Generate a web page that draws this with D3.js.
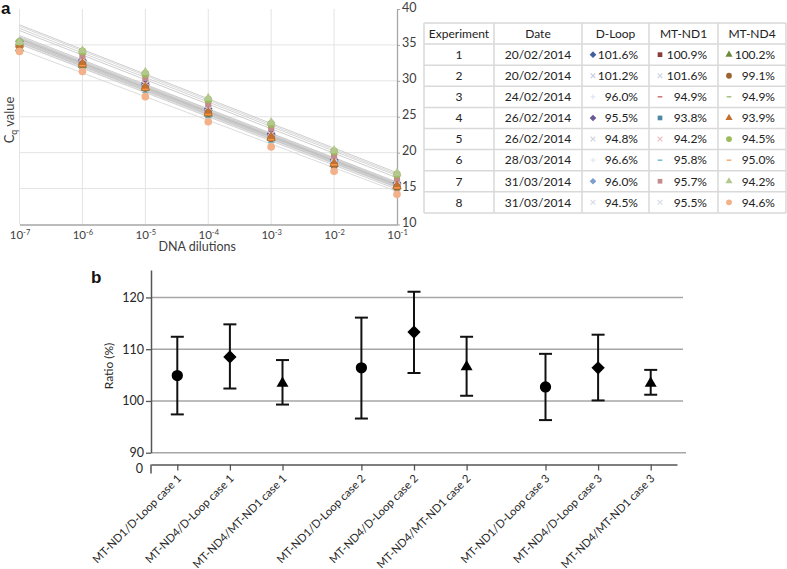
<!DOCTYPE html>
<html><head><meta charset="utf-8">
<script src="https://cdn.jsdelivr.net/npm/d3@7"></script>
<style>
body{margin:0;background:#fff;}
svg{display:block;font-family:Lato,"Open Sans",sans-serif;}
</style></head><body>
<svg id="c" width="787" height="569"></svg>
<script>
// ---------------- DATA ----------------
const dilutions = [1e-7, 1e-6, 1e-5, 1e-4, 1e-3, 1e-2, 1e-1];
const dilutionExp = ["-7", "-6", "-5", "-4", "-3", "-2", "-1"];
const cqTicks = [10, 15, 20, 25, 30, 35, 40];
const experiments = [1, 2, 3, 4, 5, 6, 7, 8];
const dates = ["20/02/2014","20/02/2014","24/02/2014","26/02/2014","26/02/2014","28/03/2014","31/03/2014","31/03/2014"];
const genes = ["D-Loop", "MT-ND1", "MT-ND4"];
const effDLoop = ["101.6%","101.2%","96.0%","95.5%","94.8%","96.6%","96.0%","94.5%"];
const effND1   = ["100.9%","101.6%","94.9%","93.8%","94.2%","95.8%","95.7%","95.5%"];
const effND4   = ["100.2%","99.1%","94.9%","93.9%","94.5%","95.0%","94.2%","94.6%"];

// Cq values per experiment at each dilution (1e-7 ... 1e-1)
const cqDLoop = [
  [35.5, 32.9, 29.7, 26.1, 22.7, 19.0, 15.8],
  [34.5, 32.3, 29.0, 25.5, 22.0, 18.4, 15.2],
  [34.6, 32.4, 29.2, 25.6, 22.2, 18.6, 15.4],
  [35.1, 32.8, 29.5, 25.9, 22.5, 18.9, 15.7],
  [34.3, 32.1, 28.9, 25.3, 21.8, 18.3, 15.1],
  [34.8, 32.6, 29.4, 25.8, 22.3, 18.7, 15.5],
  [34.9, 32.5, 29.3, 25.9, 22.4, 18.8, 15.6],
  [34.2, 32.0, 28.7, 25.1, 21.7, 18.1, 15.0]
];
const cqND1 = [
  [35.0, 32.6, 29.3, 25.7, 22.3, 18.7, 15.5],
  [34.6, 32.5, 29.1, 25.6, 22.1, 18.6, 15.4],
  [34.7, 32.4, 29.2, 25.7, 22.2, 18.5, 15.4],
  [34.3, 32.1, 28.8, 25.3, 21.9, 18.2, 15.1],
  [34.9, 32.8, 29.5, 26.0, 22.5, 18.9, 15.7],
  [34.0, 31.9, 28.5, 25.0, 21.5, 18.0, 14.8],
  [35.2, 33.5, 30.4, 26.8, 23.4, 19.6, 16.4],
  [34.4, 32.3, 28.9, 25.5, 22.0, 18.4, 15.2]
];
const cqND4 = [
  [34.5, 32.2, 29.0, 25.4, 22.0, 18.4, 15.3],
  [35.0, 32.3, 29.0, 25.5, 22.0, 18.3, 15.2],
  [35.3, 33.8, 30.7, 27.1, 23.7, 19.9, 16.7],
  [35.0, 32.4, 29.1, 25.6, 22.2, 18.5, 15.4],
  [35.4, 34.1, 31.0, 27.4, 24.0, 20.2, 17.0],
  [34.4, 32.1, 28.8, 25.3, 21.8, 18.3, 15.1],
  [35.4, 34.2, 31.2, 27.6, 24.2, 20.3, 17.1],
  [34.1, 31.3, 27.8, 24.3, 20.8, 17.4, 14.2]
];
// fitted standard-curve lines: Cq at 1e-7 and at 1e-1
const fitStartDLoop = [36.3, 35.6, 35.8, 36.1, 35.4, 35.9, 36.0, 35.2];
const fitEndDLoop   = [15.9, 15.3, 15.5, 15.8, 15.2, 15.6, 15.7, 15.1];
const fitStartND1   = [35.9, 35.8, 35.8, 35.4, 36.1, 35.1, 37.0, 35.6];
const fitEndND1     = [15.6, 15.5, 15.4, 15.2, 15.8, 14.9, 16.5, 15.3];
const fitStartND4   = [35.6, 35.5, 37.3, 35.8, 37.6, 35.4, 37.8, 34.4];
const fitEndND4     = [15.4, 15.3, 16.8, 15.5, 17.0, 15.2, 17.2, 14.6];

// panel b
const ratioCategories = ["MT-ND1/D-Loop case 1","MT-ND4/D-Loop case 1","MT-ND4/MT-ND1 case 1",
  "MT-ND1/D-Loop case 2","MT-ND4/D-Loop case 2","MT-ND4/MT-ND1 case 2",
  "MT-ND1/D-Loop case 3","MT-ND4/D-Loop case 3","MT-ND4/MT-ND1 case 3"];
const ratioCase = [1,1,1,2,2,2,3,3,3];
const ratioMean = [104.9, 108.5, 103.4, 106.4, 113.3, 106.6, 102.7, 106.4, 103.4];
const ratioHigh = [112.4, 114.8, 107.9, 116.1, 121.1, 112.4, 109.1, 112.8, 106.0];
const ratioLow  = [97.4, 102.4, 99.3, 96.6, 105.4, 101.0, 96.3, 100.1, 101.2];
const ratioTicks = [90, 100, 110, 120];

// ---------------- STYLES ----------------
const symX = {draw(c,s){const r=Math.sqrt(s)/2;c.moveTo(-r,-r);c.lineTo(r,r);c.moveTo(r,-r);c.lineTo(-r,r);}};
const symPlus = {draw(c,s){const r=Math.sqrt(s)/2;c.moveTo(-r,0);c.lineTo(r,0);c.moveTo(0,-r);c.lineTo(0,r);}};
const symDash = {draw(c,s){const r=Math.sqrt(s)/2;c.moveTo(-r,0);c.lineTo(r,0);}};
const symDiamond = {draw(c,s){const r=Math.sqrt(s/2);c.moveTo(0,-r);c.lineTo(r,0);c.lineTo(0,r);c.lineTo(-r,0);c.closePath();}};
const S = {dia:symDiamond, sq:d3.symbolSquare, tri:d3.symbolTriangle, cir:d3.symbolCircle, x:symX, plus:symPlus, dash:symDash};
const stroked = new Set(["x","plus","dash"]);
const markerStyle = {
  "D-Loop": [["dia","#3f5f9f"],["x","#c5cde0"],["plus","#e0e5f2"],["dia","#6a5895"],["x","#d0d5e2"],["plus","#e2e7f0"],["dia","#7f9ccf"],["x","#d8dce6"]],
  "MT-ND1": [["sq","#8c3a3a"],["x","#c9d3e3"],["dash","#c0504d"],["sq","#4e88a3"],["x","#ecc0c0"],["dash","#4bacc6"],["sq","#c38b8b"],["x","#d9dde6"]],
  "MT-ND4": [["tri","#6c8a3c"],["cir","#9c6430"],["dash","#8fb05a"],["tri","#c4702f"],["cir","#9bbb59"],["dash","#f79646"],["tri","#b3c88f"],["cir","#f2b189"]]
};
const fitLineColor = ["#c4c4c4","#d2d2d2","#cfcfcf","#bdbdbd","#d6d6d6","#cccccc","#c8c8c8","#d8d8d8"];

const svg = d3.select("#c");
const txt = "#262626";

// ---------------- PANEL A ----------------
const xa = d3.scaleLog().domain([1e-7, 1e-1]).range([19.5, 397]);
const ya = d3.scaleLinear().domain([10, 40]).range([224.5, 9]);
const ga = svg.append("g");

ga.selectAll("line.vg").data(dilutions.slice(0,-1)).join("line").attr("class","vg")
  .attr("x1",d=>xa(d)).attr("x2",d=>xa(d)).attr("y1",ya(40)).attr("y2",ya(10))
  .attr("stroke","#e3e3e3").attr("stroke-width",1);
ga.selectAll("line.hg").data(cqTicks.slice(1,-1)).join("line").attr("class","hg")
  .attr("x1",xa(1e-7)).attr("x2",xa(1e-1)).attr("y1",d=>ya(d)).attr("y2",d=>ya(d))
  .attr("stroke","#e3e3e3").attr("stroke-width",1);

// right axis
const ra = ga.append("g").attr("transform",`translate(${xa(1e-1)},0)`)
  .call(d3.axisRight(ya).tickValues(cqTicks).tickSize(3).tickSizeOuter(0));
ra.select(".domain").attr("stroke","#a6a6a6").attr("stroke-width",1.3);
ra.selectAll(".tick line").attr("stroke","#a6a6a6");
ra.selectAll(".tick text").attr("font-size",12.5).attr("fill","#404040").attr("x",5).attr("dy","0.16em").attr("font-family","Lato,sans-serif");

// bottom axis
const ba = ga.append("g").attr("transform",`translate(0,${ya(10)})`)
  .call(d3.axisBottom(xa).tickValues(dilutions).tickSize(0).tickFormat(""));
ba.select(".domain").attr("stroke","#a6a6a6").attr("stroke-width",1.3);
ba.selectAll(".tick").each(function(d,i){
  const t = d3.select(this).append("text").attr("y",14).attr("text-anchor","middle")
    .attr("fill","#404040").attr("font-size",11.5).attr("font-family","Lato,sans-serif");
  t.append("tspan").text("10");
  t.append("tspan").attr("dy",-4).attr("font-size",7.5).text(dilutionExp[i]);
});
ga.append("text").attr("x",(xa(1e-7)+xa(1e-1))/2-11).attr("y",251).attr("text-anchor","middle")
  .attr("font-size",12.5).attr("fill","#404040").text("DNA dilutions");
const cqLab = ga.append("text").attr("transform","translate(14,120) rotate(-90)").attr("text-anchor","middle")
  .attr("font-size",13).attr("fill","#404040");
cqLab.append("tspan").text("C");
cqLab.append("tspan").attr("font-size",8.5).attr("dy",3).text("q");
cqLab.append("tspan").attr("dy",-3).text(" value");

// series
const seriesA = [];
const cqAll = [cqDLoop, cqND1, cqND4];
const fsAll = [fitStartDLoop, fitStartND1, fitStartND4];
const feAll = [fitEndDLoop, fitEndND1, fitEndND4];
genes.forEach((g,gi)=>experiments.forEach((e,i)=>{
  seriesA.push({gene:g, exp:e, cq:cqAll[gi][i], fit:[fsAll[gi][i], feAll[gi][i]], sym:markerStyle[g][i][0], col:markerStyle[g][i][1], lc:fitLineColor[i]});
}));
const lineGen = d3.line().x(d=>xa(d[0])).y(d=>ya(d[1]));
ga.append("g").selectAll("path").data(seriesA).join("path")
  .attr("d",s=>lineGen([[dilutions[0],s.fit[0]],[dilutions[dilutions.length-1],s.fit[1]]]))
  .attr("fill","none").attr("stroke",s=>s.lc).attr("stroke-width",0.9);
const sg = ga.append("g");
seriesA.forEach(s=>{
  const isS = stroked.has(s.sym);
  sg.append("g").selectAll("path").data(s.cq).join("path")
    .attr("transform",(d,i)=>`translate(${xa(dilutions[i])},${ya(d)})`)
    .attr("d",d3.symbol().type(S[s.sym]).size(s.sym==="cir"?46:38))
    .attr("fill",isS?"none":s.col).attr("stroke",isS?s.col:"none").attr("stroke-width",isS?1.6:0);
});

svg.append("text").attr("x",1).attr("y",14).attr("font-size",17).attr("font-weight","bold")
  .attr("font-family","Liberation Sans,Arial,sans-serif").attr("fill","#111").text("a");

// ---------------- TABLE ----------------
const colEdges = [424, 494, 582, 649, 718, 786];
const rowTop = 23, rowH = 21.1;
const tg = svg.append("g").attr("font-size",12).attr("fill","#222");
const nRows = experiments.length + 1;
tg.selectAll("line.r").data(d3.range(nRows+1)).join("line")
  .attr("x1",colEdges[0]).attr("x2",colEdges[colEdges.length-1])
  .attr("y1",i=>rowTop+i*rowH).attr("y2",i=>rowTop+i*rowH).attr("stroke","#d9d9d9").attr("stroke-width",1.5);
tg.selectAll("line.c").data(colEdges).join("line")
  .attr("x1",d=>d).attr("x2",d=>d).attr("y1",rowTop).attr("y2",rowTop+nRows*rowH)
  .attr("stroke","#d9d9d9").attr("stroke-width",1.5);
const headers = ["Experiment","Date",...genes];
tg.selectAll("text.h").data(headers).join("text")
  .attr("x",(d,i)=>(colEdges[i]+colEdges[i+1])/2).attr("y",rowTop+rowH/2).attr("dy","0.36em")
  .attr("text-anchor","middle").text(d=>d);
const effAll = [effDLoop, effND1, effND4];
experiments.forEach((e,i)=>{
  const cy = rowTop + (i+1.5)*rowH;
  tg.append("text").attr("x",(colEdges[0]+colEdges[1])/2).attr("y",cy).attr("dy","0.36em").attr("text-anchor","middle").text(e);
  tg.append("text").attr("x",(colEdges[1]+colEdges[2])/2).attr("y",cy).attr("dy","0.36em").attr("text-anchor","middle").text(dates[i]);
  genes.forEach((g,gi)=>{
    const x0 = colEdges[2+gi], x1 = colEdges[3+gi];
    tg.append("text").attr("x",x1-11).attr("y",cy).attr("dy","0.36em").attr("text-anchor","end").text(effAll[gi][i]);
    const [sym,col] = markerStyle[g][i];
    const isS = stroked.has(sym);
    tg.append("path").attr("transform",`translate(${x0+11},${cy})`)
      .attr("d",d3.symbol().type(S[sym]).size(sym==="cir"?26:22))
      .attr("fill",isS?"none":col).attr("stroke",isS?col:"none").attr("stroke-width",isS?1.2:0);
  });
});

// ---------------- PANEL B ----------------
const catPos = ratioCategories.map((c,i)=>i + (ratioCase[i]-1)*0.5);
const xb = d3.scaleLinear().domain([-0.5, 9.5]).range([151, 677]);
const yb = d3.scaleLinear().domain([90, 125.3]).range([452.7, 270]);
const gb = svg.append("g");
gb.selectAll("line.g").data(ratioTicks).join("line")
  .attr("x1",xb(-0.5)).attr("x2",d=>d===90?686:683).attr("y1",d=>yb(d)).attr("y2",d=>yb(d))
  .attr("stroke","#a6a6a6").attr("stroke-width",1.4);
const la = gb.append("g").attr("transform",`translate(${xb(-0.5)},0)`)
  .call(d3.axisLeft(yb).tickValues(ratioTicks).tickSize(5).tickSizeOuter(0));
la.select(".domain").attr("stroke","#555").attr("stroke-width",1.5);
la.selectAll(".tick line").attr("stroke","#555").attr("stroke-width",1.3);
la.selectAll(".tick text").attr("font-size",12.5).attr("fill",txt).attr("x",-7).attr("font-family","Lato,sans-serif");

// broken lower axis with 0
const zeroY = 464.5;
const bx = gb.append("g").attr("transform",`translate(0,${zeroY})`)
  .call(d3.axisBottom(xb).tickValues(catPos).tickSize(6).tickSizeOuter(0).tickFormat(""));
bx.select(".domain").attr("stroke","#555").attr("stroke-width",1.5);
bx.selectAll(".tick line").attr("stroke","#555").attr("stroke-width",1.3);
gb.append("line").attr("x1",xb(-0.5)).attr("x2",xb(-0.5)).attr("y1",zeroY).attr("y2",zeroY+9)
  .attr("stroke","#555").attr("stroke-width",1.5);
gb.append("text").attr("x",xb(-0.5)-8).attr("y",zeroY+4).attr("dy","0.32em").attr("text-anchor","end")
  .attr("font-size",12.5).attr("fill",txt).text("0");

gb.selectAll("text.xl").data(ratioCategories).join("text")
  .attr("transform",(d,i)=>`translate(${xb(catPos[i])+2},${zeroY+12}) rotate(-45)`)
  .attr("text-anchor","end").attr("dy","0.35em").attr("font-size",11.2).attr("fill",txt).text(d=>d);

gb.append("text").attr("transform","translate(113,366) rotate(-90)").attr("text-anchor","middle")
  .attr("font-size",12).attr("fill",txt).text("Ratio (%)");

// error bars
const eb = gb.append("g").attr("stroke","#111").attr("stroke-width",2);
ratioCategories.forEach((c,i)=>{
  const x = xb(catPos[i]);
  eb.append("line").attr("x1",x).attr("x2",x).attr("y1",yb(ratioLow[i])).attr("y2",yb(ratioHigh[i]));
  eb.append("line").attr("x1",x-6.5).attr("x2",x+6.5).attr("y1",yb(ratioLow[i])).attr("y2",yb(ratioLow[i]));
  eb.append("line").attr("x1",x-6.5).attr("x2",x+6.5).attr("y1",yb(ratioHigh[i])).attr("y2",yb(ratioHigh[i]));
});
gb.append("g").selectAll("path").data(ratioMean).join("path")
  .attr("transform",(d,i)=>`translate(${xb(catPos[i])},${yb(d)})`)
  .attr("d",(d,i)=>{const k=i%3; return k===0?d3.symbol().type(d3.symbolCircle).size(100)():
     k===1?d3.symbol().type(symDiamond).size(88)():d3.symbol().type(d3.symbolTriangle).size(62)();})
  .attr("fill","#000");

svg.append("text").attr("x",91).attr("y",283).attr("font-size",17).attr("font-weight","bold")
  .attr("font-family","Liberation Sans,Arial,sans-serif").attr("fill","#111").text("b");
</script>
</body></html>
